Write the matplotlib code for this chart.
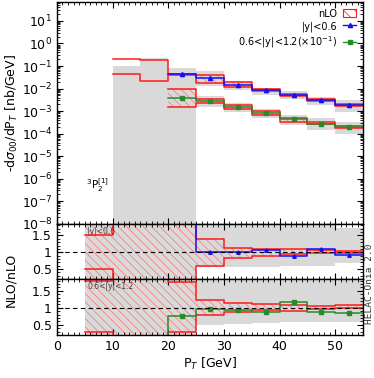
import numpy as np
import matplotlib
matplotlib.use('Agg')
import matplotlib.pyplot as plt
from matplotlib.ticker import LogLocator, MultipleLocator, NullFormatter, FuncFormatter
from matplotlib.patches import Patch
from matplotlib.lines import Line2D

plt.rcParams['hatch.linewidth'] = 0.5
nan = np.nan

# bin edges in P_T [GeV]
edges = np.array([5, 10, 15, 20, 25, 30, 35, 40, 45, 50, 55])
centers = 0.5 * (edges[:-1] + edges[1:])

# main panel, |y|<0.6
nlo1_hi = [nan, 0.21, 0.18, 0.046, 0.039, 0.020, 0.0094, 0.0060, 0.0034, 0.0021]
nlo1_lo = [nan, 0.045, 0.022, 0.040, 0.018, 0.0118, 0.0075, 0.0046, 0.0028, 0.0017]
NLO1 = [nan, nan, nan, 0.043, 0.028, 0.0145, 0.0085, 0.0051, 0.0030, 0.0019]
grey1_hi = [nan, 0.10, 0.23, 0.085, 0.058, 0.021, 0.011, 0.0079, 0.0043, 0.0030]
grey1_lo = [nan, 1e-9, 1e-9, 1e-9, 0.0126, 0.009, 0.0051, 0.0033, 0.0019, 0.00094]

# main panel, 0.6<|y|<1.2 (x 0.1)
nlo2_hi = [nan, nan, nan, 0.0091, 0.0034, 0.0018, 0.0010, 0.00048, 0.00032, 0.00022]
nlo2_lo = [nan, nan, nan, 0.0015, 0.0022, 0.0013, 0.00068, 0.00034, 0.00026, 0.00018]
NLO2 = [nan, nan, nan, 0.0039, 0.0029, 0.0015, 0.0008, 0.00045, 0.00027, 0.00019]
grey2_hi = [nan, nan, nan, nan, 0.0046, 0.0022, 0.0012, 0.00068, 0.00050, 0.00034]
grey2_lo = [nan, nan, nan, nan, 0.0015, 0.00094, 0.00048, 0.00023, 0.00014, 0.0001]

# ratio panel |y|<0.6
r1_hi = [1.5, 1.83, 1.83, 3, 1.39, 1.13, 1.10, 1.10, 1.07, 1.05]
r1_lo = [0.5, -1, -1, -1, 0.60, 0.82, 0.90, 0.94, 0.98, 0.98]
r1_hatch_hi = [3, 3, 3, 3, 1.39, 1.13, 1.10, 1.10, 1.07, 1.05]
r1_hatch_lo = [-1, -1, -1, -1, 0.60, 0.82, 0.90, 0.94, 0.98, 0.98]
r1_NLO = [nan, nan, nan, 3, 1.0, 1.0, 1.08, 0.90, 1.10, 0.93]
r1_grey_hi = [3, 3, 3, 3, 3, 3, 3, 3, 3, 1.73]
r1_grey_lo = [-1, -1, -1, -1, 0.55, 0.56, 0.57, 0.60, 0.60, 0.68]

# ratio panel 0.6<|y|<1.2
r2_hi = [1.78, 3, 3, 1.77, 1.23, 1.13, 1.12, 1.08, 1.06, 1.07]
r2_lo = [0.28, -1, -1, 0.28, 0.78, 0.87, 0.92, 0.90, 0.96, 0.99]
r2_hatch_hi = [3, 3, 3, 3, 1.23, 1.13, 1.12, 1.08, 1.06, 1.07]
r2_hatch_lo = [-1, -1, -1, -1, 0.78, 0.87, 0.92, 0.90, 0.96, 0.99]
r2_NLO = [nan, nan, -1, 0.75, 0.97, 0.92, 0.87, 1.16, 0.89, 0.85]
r2_grey_hi = [3, 3, 3, 3, 3, 3, 3, 3, 3, 3]
r2_grey_lo = [-1, -1, -1, -1, 0.48, 0.53, 0.55, 0.58, 0.58, 0.58]

RED = '#ff1a1a'
HRED = '#ff7070'
GREY = '#d9d9d9'
BLUE = '#1010ff'
GREEN = '#2a8a2a'
HATCH = '\\\\\\\\'


def st(v):
    v = np.asarray(v, dtype=float)
    return np.append(v, v[-1])


def band(ax, lo, hi, grey=False):
    if grey:
        ax.fill_between(edges, st(lo), st(hi), step='post', color=GREY, lw=0)
    else:
        ax.fill_between(edges, st(lo), st(hi), step='post', facecolor='none',
                        edgecolor=HRED, hatch=HATCH, lw=0)


def lines(ax, v, color, lw=1.1):
    ax.step(edges, st(v), where='post', color=color, lw=lw)


fig = plt.figure(figsize=(3.74, 3.78), dpi=100)
ax = fig.add_axes([0.152, 0.408, 0.819, 0.587])
r1 = fig.add_axes([0.152, 0.262, 0.819, 0.146])
r2 = fig.add_axes([0.152, 0.114, 0.819, 0.148])

# main panel
band(ax, grey1_lo, grey1_hi, grey=True)
band(ax, grey2_lo, grey2_hi, grey=True)
band(ax, np.where(centers > 20, nlo1_lo, nan), np.where(centers > 20, nlo1_hi, nan))
band(ax, nlo2_lo, nlo2_hi)
for v in [nlo1_hi, nlo1_lo, nlo2_hi, nlo2_lo]:
    lines(ax, v, RED)
lines(ax, NLO1, BLUE)
lines(ax, NLO2, GREEN)
ax.plot(centers, NLO1, ls='none', marker='^', ms=3, color=BLUE)
ax.plot(centers, NLO2, ls='none', marker='s', ms=2.5, color=GREEN)
ax.set_yscale('log')
ax.set_ylim(1e-8, 70)
ax.yaxis.set_major_locator(LogLocator(base=10, numticks=20))
ax.yaxis.set_minor_locator(LogLocator(base=10, subs=np.arange(2, 10), numticks=20))
ax.yaxis.set_minor_formatter(NullFormatter())
ax.set_ylabel(r'-d$\sigma_{00}$/dP$_T$ [nb/GeV]', fontsize=9, labelpad=1)
ax.text(5.2, 3.5e-7, r'$^3$P$_2^{[1]}$', fontsize=7.5)

handles = [Patch(facecolor='none', edgecolor=RED, hatch='\\\\\\', lw=0.8),
           Line2D([], [], color=BLUE, marker='^', ms=3, lw=1),
           Line2D([], [], color=GREEN, marker='s', ms=2.5, lw=1)]
labels = ['nLO', '|y|<0.6', '0.6<|y|<1.2(×10$^{-1}$)']
ax.legend(handles, labels, loc='upper right', frameon=False, fontsize=7,
          markerfirst=False, handlelength=1.4, handleheight=0.9,
          labelspacing=0.25, borderaxespad=0.3, handletextpad=0.6)

# ratio panels
for r, hi, lo, hh, hl, gh, gl, nlo_c, col, mk, lab in [
        (r1, r1_hi, r1_lo, r1_hatch_hi, r1_hatch_lo, r1_grey_hi, r1_grey_lo, r1_NLO, BLUE, '^', '|y|<0.6'),
        (r2, r2_hi, r2_lo, r2_hatch_hi, r2_hatch_lo, r2_grey_hi, r2_grey_lo, r2_NLO, GREEN, 's', '0.6<|y|<1.2')]:
    band(r, gl, gh, grey=True)
    band(r, hl, hh)
    lines(r, hi, RED)
    lines(r, lo, RED)
    lines(r, nlo_c, col)
    r.plot(centers, nlo_c, ls='none', marker=mk, ms=2.5, color=col)
    r.axhline(1.0, color='black', ls='--', lw=0.8, dashes=(4, 3))
    r.set_ylim(0.2, 1.85)
    r.yaxis.set_major_locator(MultipleLocator(0.5))
    r.yaxis.set_minor_locator(MultipleLocator(0.1))
    r.yaxis.set_major_formatter(FuncFormatter(lambda v, p: '%g' % v))
    r.text(5.5, 1.62, lab, fontsize=5.5, color='#444444', va='center')

for a in [ax, r1, r2]:
    a.set_xlim(0, 55)
    a.xaxis.set_major_locator(MultipleLocator(10))
    a.xaxis.set_minor_locator(MultipleLocator(1))
    a.tick_params(which='both', direction='in', top=True, right=True, labelsize=9)
    a.tick_params(which='major', length=4, width=0.8)
    a.tick_params(which='minor', length=2, width=0.6)
    for s in a.spines.values():
        s.set_linewidth(1.0)
ax.tick_params(labelbottom=False)
r1.tick_params(labelbottom=False)
r2.set_xlabel('P$_T$ [GeV]', fontsize=9, labelpad=2)
fig.text(0.03, 0.26, 'NLO/nLO', rotation=90, ha='center', va='center', fontsize=9)
fig.text(0.976, 0.25, 'HELAC-Onia 2.0', rotation=90, ha='left', va='center',
         fontsize=6.8, family='DejaVu Sans Mono', color='#333333')

fig.savefig('out.png', dpi=100)
